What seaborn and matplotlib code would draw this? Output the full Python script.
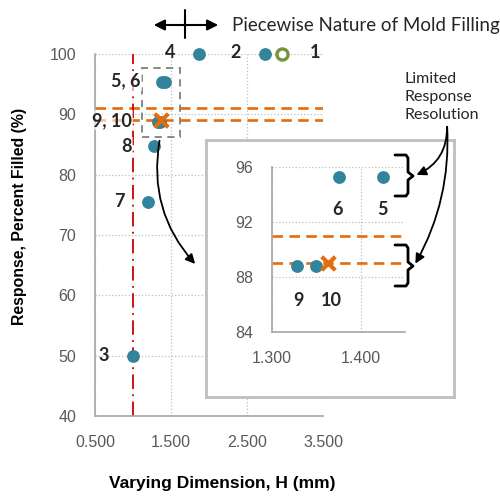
import matplotlib.pyplot as plt
import seaborn as sns
from matplotlib.lines import Line2D
from matplotlib.patches import Rectangle

# run number, varying dimension H (mm) and percent filled for each run
run_ids = ["1", "2", "3", "4", "5", "6", "7", "8", "9", "10"]
dimension_mm = [2.96, 2.74, 1.00, 1.87, 1.425, 1.375, 1.20, 1.28, 1.328, 1.350]
percent_filled = [100, 100, 50, 100, 95.3, 95.3, 75.5, 84.7, 88.8, 88.8]
predicted_h = [1.363]
predicted_fill = [89.0]
threshold_h = 1.0
resolution_band = [91.0, 89.0]
main_xticks = [0.5, 1.5, 2.5, 3.5]
main_yticks = [40, 50, 60, 70, 80, 90, 100]
inset_xticks = [1.3, 1.4]
inset_yticks = [84, 88, 92, 96]

TEAL = "#31849B"
GREEN = "#77933C"
ORANGE = "#E46C0A"
RED = "#CC0000"
GRAY_TXT = "#595959"
GRAY_AX = "#A6A6A6"
CAL = ["Lato", "DejaVu Sans"]

sns.set_style("white")
plt.rcParams["font.family"] = ["Liberation Sans", "DejaVu Sans"]

fig = plt.figure(figsize=(5, 4.96), dpi=100)


def fpx(x, y):
    return (x / 500, 1 - y / 496)


def style_axes(a, xt, yt, fmt):
    for s in ("top", "right"):
        a.spines[s].set_visible(False)
    for s in ("left", "bottom"):
        a.spines[s].set_color(GRAY_AX)
        a.spines[s].set_linewidth(1.2)
    a.set_xticks(xt)
    a.set_xticklabels([fmt.format(v) for v in xt])
    a.set_yticks(yt)
    a.tick_params(colors=GRAY_TXT, labelsize=11.5, length=4.5, width=1, pad=9)
    a.tick_params(axis="both", color=GRAY_AX)
    a.grid(True, ls=":", color="#BFBFBF", lw=0.9)
    a.set_axisbelow(True)


# main chart
ax = fig.add_axes([0.19, 0.1613, 0.456, 0.7298])
ax.set_xlim(0.5, 3.5)
ax.set_ylim(40, 100)
style_axes(ax, main_xticks, main_yticks, "{:.3f}")

for y in resolution_band:
    ax.axhline(y, color=ORANGE, lw=1.9, ls=(0, (4, 2.4)), zorder=2)
ax.axvline(threshold_h, color=RED, lw=1.3, ls=(0, (8, 3, 1, 3)), zorder=2)

sns.scatterplot(x=dimension_mm[1:], y=percent_filled[1:], ax=ax, color=TEAL, s=85,
                linewidth=0, zorder=4, clip_on=False)
sns.scatterplot(x=dimension_mm[:1], y=percent_filled[:1], ax=ax, s=64, facecolor="white",
                edgecolor=GREEN, linewidth=2.4, zorder=4, clip_on=False)
ax.scatter(predicted_h, predicted_fill, marker="x", s=95, color=ORANGE, linewidths=3, zorder=5)

ax.add_patch(Rectangle((1.12, 86.2), 0.5, 11.5, fill=False, ec="#808080", lw=1.3,
                       ls=(0, (4, 3)), zorder=3, clip_on=False))

lab = dict(fontsize=13, fontweight="bold", family=CAL, ha="center", va="center", zorder=6)
box = dict(facecolor="white", alpha=0.6, edgecolor="none", pad=1)
ax.text(1.49, 100.2, "4", **lab, clip_on=False)
ax.text(2.35, 100.2, "2", **lab, clip_on=False)
ax.text(3.39, 100.2, "1", **lab, clip_on=False)
ax.text(0.90, 95.6, "5, 6", bbox=box, **lab)
ax.text(0.72, 89.0, "9, 10", bbox=box, **lab)
ax.text(0.91, 84.6, "8", bbox=box, **lab)
ax.text(0.82, 75.5, "7", **lab)
ax.text(0.62, 50.0, "3", **lab)

ax.set_xlabel("Varying Dimension, H (mm)", fontsize=12.5, fontweight="bold", color="black")
ax.set_ylabel("Response, Percent Filled (%)", fontsize=11.4, fontweight="bold", color="black")
ax.xaxis.set_label_coords(0.557, -0.165)
ax.yaxis.set_label_coords(-0.298, 0.55)

# inset frame
frame = fig.add_axes([0.412, 0.1996, 0.496, 0.518], zorder=3)
frame.set_xticks([])
frame.set_yticks([])
for s in frame.spines.values():
    s.set_color("#BFBFBF")
    s.set_linewidth(2)
frame.set_facecolor("white")

# zoomed inset
ins = fig.add_axes([0.544, 0.3306, 0.266, 0.3327], zorder=4)
ins.set_facecolor("none")
ins.set_xlim(1.3, 1.45)
ins.set_ylim(84, 96)
style_axes(ins, inset_xticks, inset_yticks, "{:.3f}")
for y in resolution_band:
    ins.axhline(y, color=ORANGE, lw=1.9, ls=(0, (4, 2.4)), zorder=2)
sns.scatterplot(x=dimension_mm[4:6] + dimension_mm[8:], y=percent_filled[4:6] + percent_filled[8:],
                ax=ins, color=TEAL, s=85, linewidth=0, zorder=4)
ins.scatter(predicted_h, predicted_fill, marker="x", s=95, color=ORANGE, linewidths=3, zorder=5)
ins.text(1.374, 92.9, "6", **lab)
ins.text(1.425, 92.9, "5", **lab)
ins.text(1.330, 86.3, "9", **lab)
ins.text(1.367, 86.3, "10", **lab)

# annotations in figure space
arrow = dict(arrowstyle="-|>", color="black", lw=1.3, mutation_scale=14)
frame.annotate("", xy=fpx(197, 266), xytext=fpx(160, 138), xycoords="figure fraction",
               arrowprops=dict(arrow, connectionstyle="arc3,rad=0.25"))
frame.annotate("", xy=fpx(414, 176), xytext=fpx(447, 124), xycoords="figure fraction",
               arrowprops=dict(arrow, connectionstyle="arc3,rad=-0.35"))
frame.annotate("", xy=fpx(414, 266), xytext=fpx(447, 124), xycoords="figure fraction",
               arrowprops=dict(arrow, connectionstyle="arc3,rad=-0.15"))

for top, mid, bot in ((155, 176, 196), (245, 266, 286)):
    pts = [(395, top), (406, top), (408, top + 3), (408, mid - 4), (413, mid),
           (408, mid + 4), (408, bot - 3), (406, bot), (395, bot)]
    xs, ys = zip(*[fpx(*p) for p in pts])
    fig.add_artist(Line2D(xs, ys, color="black", lw=2, zorder=6, solid_joinstyle="round"))

fig.text(405 / 500, 1 - 97 / 496, "Limited\nResponse\nResolution", family=CAL, fontsize=11.5,
         ha="left", va="center", linespacing=1.4)

# piecewise marker at the top
fig.add_artist(Line2D(*zip(fpx(185, 10), fpx(185, 38)), color="black", lw=1.5))
ax.annotate("", xy=fpx(221, 25), xytext=fpx(151, 25), xycoords="figure fraction",
            arrowprops=dict(arrowstyle="<|-|>", color="black", lw=1.5, mutation_scale=16))
fig.text(232 / 500, 1 - 25 / 496, "Piecewise Nature of Mold Filling", family=CAL, fontsize=13.5,
         ha="left", va="center")

fig.savefig("out.png", dpi=100)
